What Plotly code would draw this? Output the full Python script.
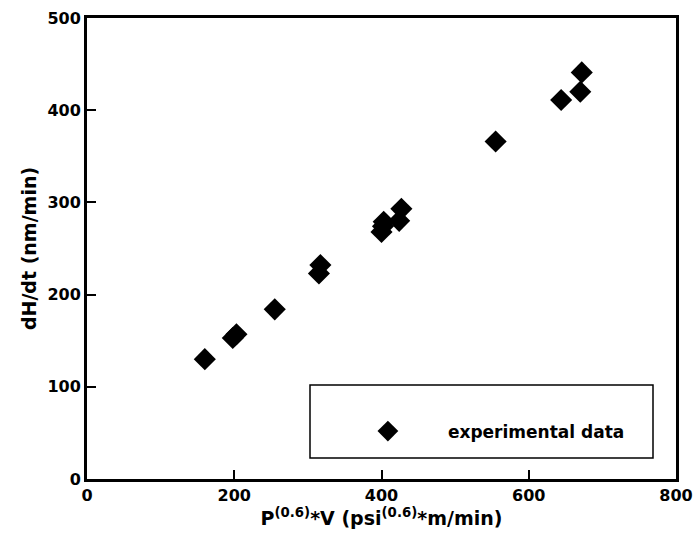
import plotly.graph_objects as go

x_vals = [160, 198, 203, 255, 315, 317, 400, 402, 403, 424, 427, 555, 644, 670, 672]
y_vals = [130, 153, 157, 184, 223, 232, 268, 274, 279, 280, 293, 366, 411, 420, 441]
series_name = "experimental data"
x_ticks = [0, 200, 400, 600, 800]
y_ticks = [0, 100, 200, 300, 400, 500]

font_fam = "DejaVu Sans, Liberation Sans, Arial, sans-serif"

fig = go.Figure()
fig.add_trace(go.Scatter(
    x=x_vals, y=y_vals, mode="markers", name=series_name,
    marker=dict(symbol="diamond", size=17, color="black", line=dict(width=0)),
))

axis_common = dict(
    showline=True, linecolor="black", linewidth=3, mirror=True,
    ticks="inside", ticklen=9, tickwidth=2, tickcolor="black",
    showgrid=False, zeroline=False, automargin=False,
    tickfont=dict(family=font_fam, size=16, color="black", weight="bold"),
)

fig.update_layout(
    width=695, height=541,
    margin=dict(l=87, r=19, t=18, b=62),
    paper_bgcolor="white", plot_bgcolor="white",
    xaxis=dict(range=[0, 800], tickvals=x_ticks,
               title=dict(text="P<sup>(0.6)</sup>*V (psi<sup>(0.6)</sup>*m/min)",
                          font=dict(family=font_fam, size=19, color="black", weight="bold"),
                          standoff=4),
               **axis_common),
    yaxis=dict(range=[0, 500], tickvals=y_ticks,
               title=dict(text="dH/dt (nm/min)",
                          font=dict(family=font_fam, size=19, color="black", weight="bold"),
                          standoff=6),
               **axis_common),
    showlegend=True,
    legend=dict(x=0.409, y=0.103, xanchor="left", yanchor="middle",
                bgcolor="rgba(0,0,0,0)", borderwidth=0, itemwidth=110,
                font=dict(family=font_fam, size=17, color="black", weight="bold")),
    shapes=[dict(type="rect", xref="paper", yref="paper",
                 x0=(310-87)/589, x1=(653-87)/589,
                 y0=(479-458)/461, y1=(479-385)/461,
                 line=dict(color="black", width=1.5))],
)

fig.write_html("out.html")
